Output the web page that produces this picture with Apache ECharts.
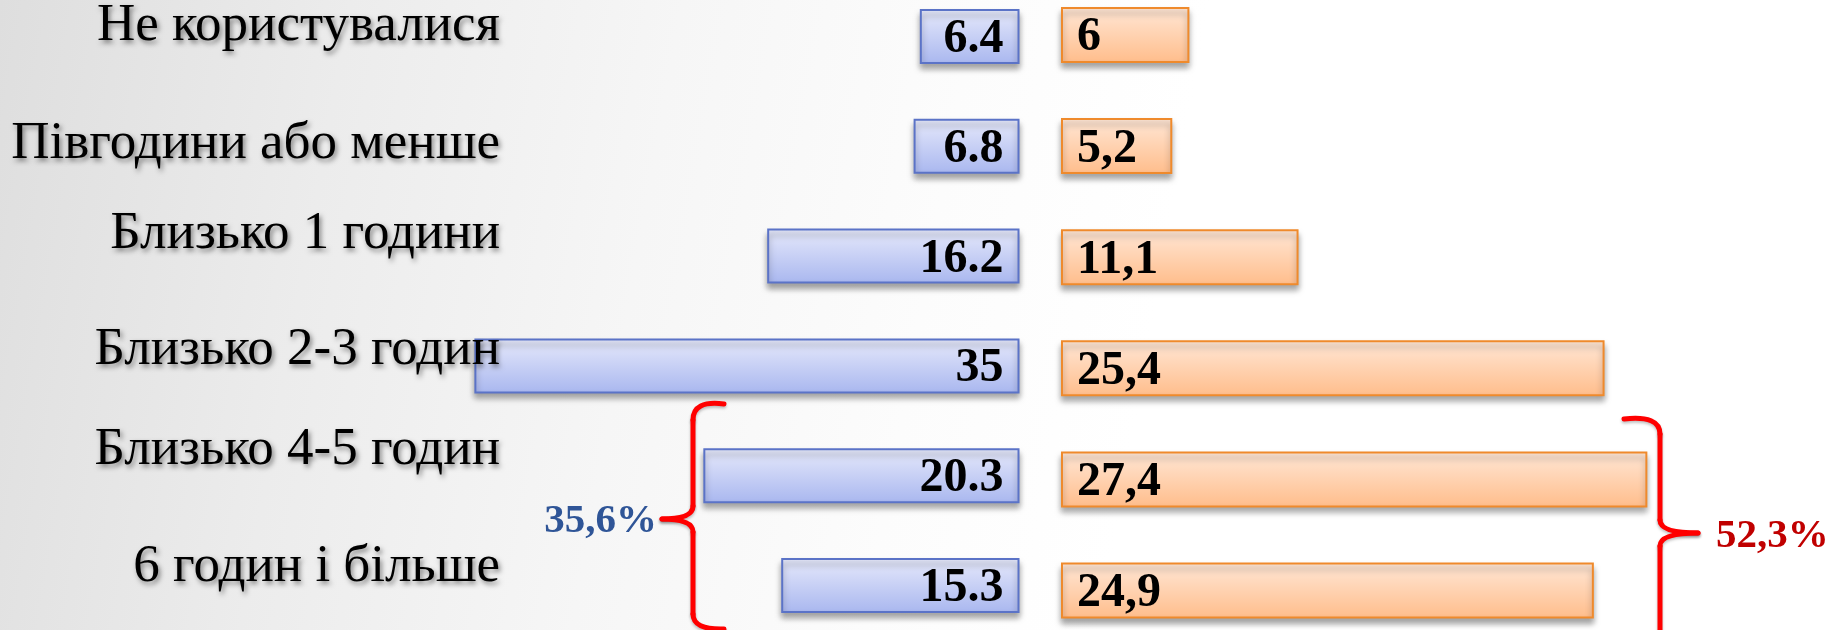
<!DOCTYPE html>
<html>
<head>
<meta charset="utf-8">
<script src="https://cdn.jsdelivr.net/npm/echarts@6/dist/echarts.min.js"></script>
<style>
html,body{margin:0;padding:0;}
#main{width:1841px;height:630px;background:linear-gradient(100deg,#dedede 0%,#ececec 18%,#f6f6f6 35%,#fcfcfc 50%,#ffffff 62%);}
</style>
</head>
<body>
<div id="main"></div>
<script>
// ---- data ----
const categories = ['Не користувалися', 'Півгодини або менше', 'Близько 1 години', 'Близько 2-3 годин', 'Близько 4-5 годин', '6 годин і більше'];
const valuesBlue = [6.4, 6.8, 16.2, 35, 20.3, 15.3];
const valuesOrange = [6, 5.2, 11.1, 25.4, 27.4, 24.9];
const groupBlueLabel = '35,6%';
const groupOrangeLabel = '52,3%';

// ---- styles ----
const chart = echarts.init(document.getElementById('main'), null, {renderer: 'canvas'});
const serif = '"Liberation Serif", "Times New Roman", serif';
// small vertical nudges (px, + = down) for the category text boxes, as placed in the original slide
const labelNudge = [-2, 9, -8, 1, -5, 5];

const labelTextStyle = {
  fontFamily: serif, fontSize: 53, color: '#000',
  textShadowColor: 'rgba(0,0,0,0.45)', textShadowBlur: 5, textShadowOffsetX: 2, textShadowOffsetY: 3
};
const rich = {};
labelNudge.forEach((d, i) => {
  rich['r' + i] = Object.assign({}, labelTextStyle, {
    padding: d >= 0 ? [2 * d, 0, 0, 0] : [0, 0, -2 * d, 0]
  });
});

const blueGrad = {type: 'linear', x: 0, y: 0, x2: 0, y2: 1, colorStops: [
  {offset: 0, color: '#e6e9fb'}, {offset: 1, color: '#a9b7ef'}
]};
const orangeGrad = {type: 'linear', x: 0, y: 0, x2: 0, y2: 1, colorStops: [
  {offset: 0, color: '#ffe7d6'}, {offset: 1, color: '#ffbd8b'}
]};

const hiddenCat = (gridIndex) => ({
  type: 'category', gridIndex: gridIndex, data: categories, inverse: true, boundaryGap: false,
  axisLine: {show: false}, axisTick: {show: false}, axisLabel: {show: false}, splitLine: {show: false}
});
const hiddenVal = (gridIndex, max, inverse) => ({
  type: 'value', gridIndex: gridIndex, min: 0, max: max, inverse: inverse,
  axisLine: {show: false}, axisTick: {show: false}, axisLabel: {show: false}, splitLine: {show: false}
});

const braceStyle = {stroke: '#ff0000', lineWidth: 5, lineCap: 'round', fill: null,
  shadowColor: 'rgba(0,0,0,0.25)', shadowBlur: 3, shadowOffsetY: 2};
const seg = (x1, y1, x2, y2) => ({type: 'line', z: 20, shape: {x1, y1, x2, y2}, style: braceStyle});
const curve = (x1, y1, cpx1, cpy1, x2, y2) => ({type: 'bezierCurve', z: 20, shape: {x1, y1, cpx1, cpy1, x2, y2}, style: braceStyle});

chart.setOption({
  backgroundColor: 'transparent',
  animation: false,
  grid: [
    {left: 396.5, right: 821.5, top: 36.5, bottom: 44.5},
    {left: 1061, right: 138, top: 35, bottom: 39.5},
    {left: 510, right: 1300, top: 27.5, bottom: 68}
  ],
  xAxis: [hiddenVal(0, 40, true), hiddenVal(1, 30, false), hiddenVal(2, 1, false)],
  yAxis: [
    hiddenCat(0),
    hiddenCat(1),
    {
      type: 'category', gridIndex: 2, data: categories, inverse: true, boundaryGap: false, z: 10,
      axisLine: {show: false}, axisTick: {show: false}, splitLine: {show: false},
      axisLabel: Object.assign({
        show: true, margin: 10,
        formatter: (v, i) => '{r' + i + '|' + v + '}',
        rich: rich
      }, labelTextStyle)
    }
  ],
  series: [
    {
      type: 'bar', xAxisIndex: 0, yAxisIndex: 0, data: valuesBlue, barWidth: 55,
      itemStyle: {
        color: blueGrad, borderColor: '#5b73c7', borderWidth: 2,
        shadowColor: 'rgba(0,0,0,0.35)', shadowBlur: 6, shadowOffsetY: 5
      },
      label: {
        show: true, position: 'insideRight', distance: 16, offset: [0, 3],
        fontFamily: serif, fontWeight: 'bold', fontSize: 48, color: '#000',
        formatter: (p) => String(p.value)
      }
    },
    {
      type: 'bar', xAxisIndex: 1, yAxisIndex: 1, data: valuesOrange, barWidth: 56,
      itemStyle: {
        color: orangeGrad, borderColor: '#ef8a2c', borderWidth: 2,
        shadowColor: 'rgba(0,0,0,0.35)', shadowBlur: 6, shadowOffsetY: 5
      },
      label: {
        show: true, position: 'insideLeft', distance: 16, offset: [0, 3],
        fontFamily: serif, fontWeight: 'bold', fontSize: 48, color: '#000',
        formatter: (p) => String(p.value).replace('.', ',')
      }
    }
  ],
  graphic: [
    // left brace "{"
    curve(724, 404, 693, 400, 693, 420),
    seg(693, 420, 693, 506),
    curve(693, 506, 693, 519, 662, 519),
    curve(662, 519, 693, 519, 693, 532),
    seg(693, 532, 693, 614),
    curve(693, 614, 693, 630, 724, 629),
    // right brace "}"
    curve(1624, 419, 1660, 415, 1660, 434),
    seg(1660, 434, 1660, 520),
    curve(1660, 520, 1660, 533, 1698, 533),
    curve(1698, 533, 1660, 533, 1660, 546),
    seg(1660, 546, 1660, 640),
    {
      type: 'text', z: 20,
      style: {text: groupBlueLabel, x: 657, y: 521, align: 'right', verticalAlign: 'middle',
        fontFamily: serif, fontWeight: 'bold', fontSize: 41, fill: '#2f5597'}
    },
    {
      type: 'text', z: 20,
      style: {text: groupOrangeLabel, x: 1716, y: 536, align: 'left', verticalAlign: 'middle',
        fontFamily: serif, fontWeight: 'bold', fontSize: 41, fill: '#c00000'}
    }
  ]
});
</script>
</body>
</html>
